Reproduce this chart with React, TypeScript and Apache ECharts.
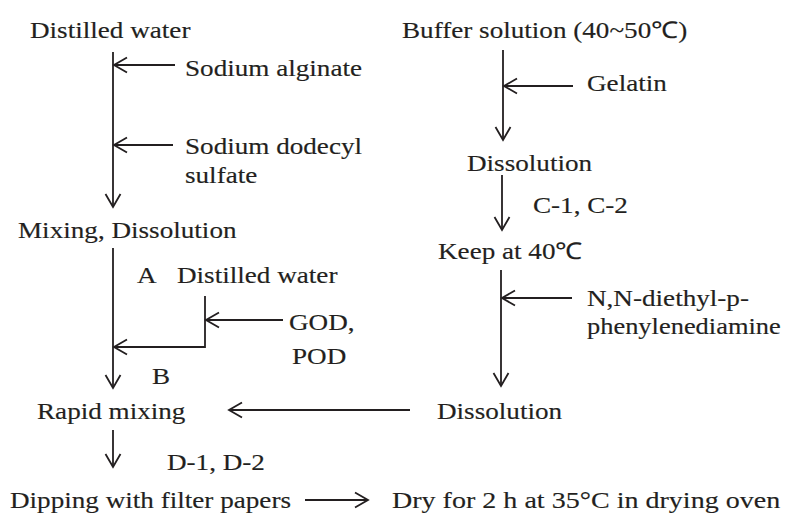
import React, { useEffect, useRef } from "react";
import * as echarts from "echarts";

// Labels of the flow diagram
const leftSteps = ["Distilled water", "Mixing, Dissolution", "Rapid mixing", "Dipping with filter papers"];
const leftAdditions = ["Sodium alginate", "Sodium dodecyl", "sulfate"];
const branchLabels = ["A", "Distilled water", "GOD,", "POD", "B"];
const rightSteps = ["Buffer solution (40~50\u2103)", "Dissolution", "Keep at 40\u2103", "Dissolution"];
const rightAdditions = ["Gelatin", "C-1, C-2", "N,N-diethyl-p-", "phenylenediamine"];
const finalLabels = ["D-1, D-2", "Dry for 2 h at 35\u00b0C in drying oven"];

const FONT_SIZE = 23;
const SX = 1.18;
const INK = "#231f20";

function txt(s: string, x: number, y: number, sx: number = SX): any {
  return {
    type: "text",
    x,
    y,
    scaleX: sx,
    style: {
      text: s,
      x: 0,
      y: 0,
      fill: INK,
      stroke: INK,
      lineWidth: 0.15,
      font: `${FONT_SIZE}px "Liberation Serif", "Times New Roman", serif`,
      textAlign: "left",
      verticalAlign: "middle",
      textVerticalAlign: "middle",
    },
  };
}

function seg(x1: number, y1: number, x2: number, y2: number): any {
  return {
    type: "line",
    shape: { x1, y1, x2, y2 },
    style: { stroke: INK, lineWidth: 1.8 },
  };
}

function arrow(x1: number, y1: number, x2: number, y2: number): any[] {
  const dx = x2 - x1;
  const dy = y2 - y1;
  const len = Math.sqrt(dx * dx + dy * dy);
  const ux = dx / len;
  const uy = dy / len;
  const L = 13;
  const W = 7.5;
  const bx = x2 - ux * L;
  const by = y2 - uy * L;
  return [
    seg(x1, y1, x2, y2),
    {
      type: "polyline",
      shape: {
        points: [
          [bx - uy * W, by + ux * W],
          [x2, y2],
          [bx + uy * W, by - ux * W],
        ],
      },
      style: { stroke: INK, lineWidth: 1.8, fill: null },
    },
  ];
}

export default function App() {
  const ref = useRef<HTMLDivElement>(null);
  useEffect(() => {
    document.body.style.margin = "0";
    const chart = echarts.init(ref.current!, null, { renderer: "svg" });
    const els: any[] = [];
    // Left column texts
    els.push(txt(leftSteps[0], 30, 30));
    els.push(txt(leftAdditions[0], 185, 68));
    els.push(txt(leftAdditions[1], 185, 146));
    els.push(txt(leftAdditions[2], 185, 175));
    els.push(txt(leftSteps[1], 18, 230));
    els.push(txt(branchLabels[0], 137, 275));
    els.push(txt(branchLabels[1], 177, 275));
    els.push(txt(branchLabels[2], 289, 322));
    els.push(txt(branchLabels[3], 292, 356));
    els.push(txt(branchLabels[4], 152, 376));
    els.push(txt(leftSteps[2], 37, 411));
    els.push(txt(finalLabels[0], 167, 462));
    els.push(txt(leftSteps[3], 10, 500));
    els.push(txt(finalLabels[1], 392, 500, 1.22));
    // Right column texts
    els.push(txt(rightSteps[0], 402, 30));
    els.push(txt(rightAdditions[0], 587, 83));
    els.push(txt(rightSteps[1], 467, 163));
    els.push(txt(rightAdditions[1], 533, 205));
    els.push(txt(rightSteps[2], 438, 251));
    els.push(txt(rightAdditions[2], 587, 298));
    els.push(txt(rightAdditions[3], 587, 326, 1.15));
    els.push(txt(rightSteps[3], 437, 411));

    // Left arrows
    els.push(...arrow(113, 52, 113, 207));
    els.push(...arrow(175, 65, 114, 65));
    els.push(...arrow(173, 145, 114, 145));
    els.push(...arrow(113, 248, 113, 388));
    els.push(seg(205, 296, 205, 348));
    els.push(...arrow(283, 320, 206, 320));
    els.push(...arrow(205, 347, 114, 347));
    els.push(...arrow(410, 410, 229, 410));
    els.push(...arrow(113, 430, 113, 467));
    els.push(...arrow(305, 500, 368, 500));
    // Right arrows
    els.push(...arrow(503, 50, 503, 140));
    els.push(...arrow(573, 86, 504, 86));
    els.push(...arrow(502, 175, 502, 230));
    els.push(...arrow(501, 270, 501, 386));
    els.push(...arrow(572, 298, 502, 298));

    chart.setOption({
      animation: false,
      backgroundColor: "#ffffff",
      graphic: { elements: els },
    });
    return () => chart.dispose();
  }, []);
  return <div ref={ref} style={{ width: 787, height: 515 }} />;
}
